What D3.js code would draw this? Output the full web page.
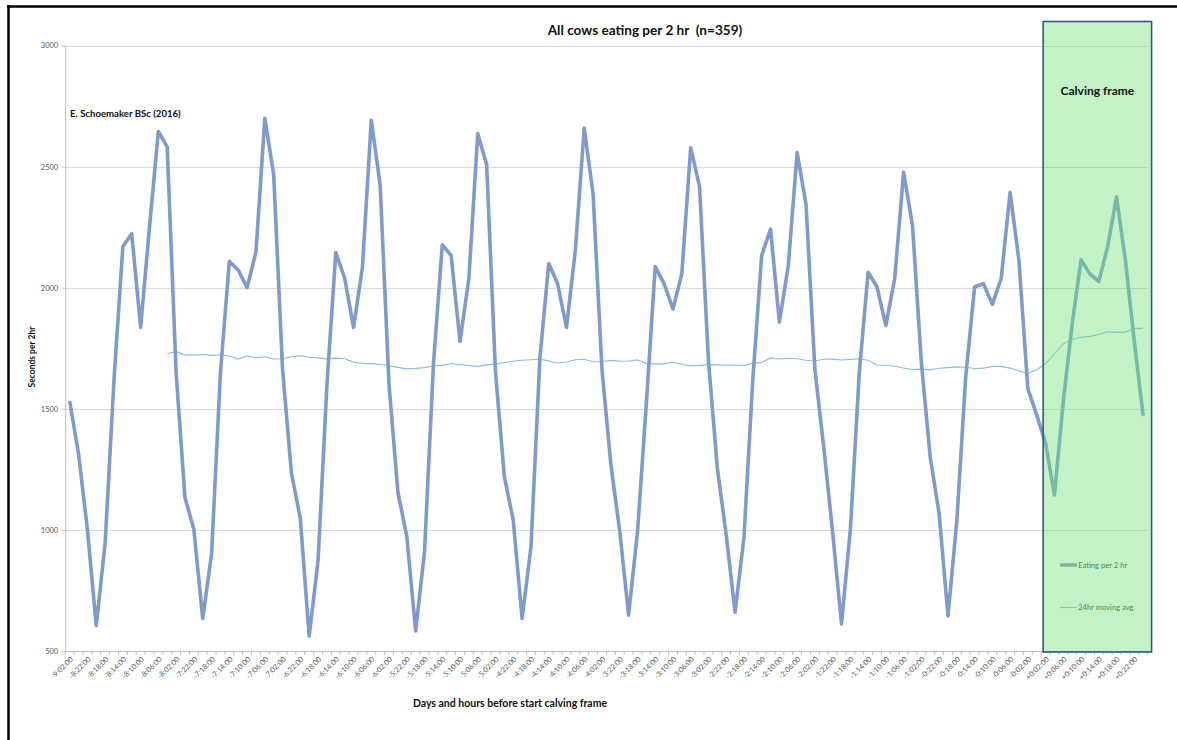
<!DOCTYPE html>
<html><head><meta charset="utf-8">
<script src="https://cdn.jsdelivr.net/npm/d3@7"></script>
<style>
body{margin:0;background:#fff}
svg{display:block}
text{font-family:Lato,"Open Sans","Liberation Sans",sans-serif;white-space:pre}
</style>
</head><body>
<svg id="c" width="1177" height="740"></svg>
<script>
const categories = [
"-9:02:00","-9:00:00",
"-8:22:00","-8:20:00","-8:18:00","-8:16:00","-8:14:00","-8:12:00","-8:10:00","-8:08:00","-8:06:00","-8:04:00","-8:02:00","-8:00:00",
"-7:22:00","-7:20:00","-7:18:00","-7:16:00","-7:14:00","-7:12:00","-7:10:00","-7:08:00","-7:06:00","-7:04:00","-7:02:00","-7:00:00",
"-6:22:00","-6:20:00","-6:18:00","-6:16:00","-6:14:00","-6:12:00","-6:10:00","-6:08:00","-6:06:00","-6:04:00","-6:02:00","-6:00:00",
"-5:22:00","-5:20:00","-5:18:00","-5:16:00","-5:14:00","-5:12:00","-5:10:00","-5:08:00","-5:06:00","-5:04:00","-5:02:00","-5:00:00",
"-4:22:00","-4:20:00","-4:18:00","-4:16:00","-4:14:00","-4:12:00","-4:10:00","-4:08:00","-4:06:00","-4:04:00","-4:02:00","-4:00:00",
"-3:22:00","-3:20:00","-3:18:00","-3:16:00","-3:14:00","-3:12:00","-3:10:00","-3:08:00","-3:06:00","-3:04:00","-3:02:00","-3:00:00",
"-2:22:00","-2:20:00","-2:18:00","-2:16:00","-2:14:00","-2:12:00","-2:10:00","-2:08:00","-2:06:00","-2:04:00","-2:02:00","-2:00:00",
"-1:22:00","-1:20:00","-1:18:00","-1:16:00","-1:14:00","-1:12:00","-1:10:00","-1:08:00","-1:06:00","-1:04:00","-1:02:00","-1:00:00",
"-0:22:00","-0:20:00","-0:18:00","-0:16:00","-0:14:00","-0:12:00","-0:10:00","-0:08:00","-0:06:00","-0:04:00","-0:02:00","0:00:00",
"+0:02:00","+0:04:00","+0:06:00","+0:08:00","+0:10:00","+0:12:00","+0:14:00","+0:16:00","+0:18:00","+0:20:00","+0:22:00","+1:00:00"
];
const eating = [
1532,1315,1003,605,945,1620,2170,2223,1836,2250,2645,2580,
1650,1133,1003,634,902,1650,2109,2073,2000,2148,2699,2467,
1662,1235,1047,561,873,1600,2145,2039,1836,2083,2691,2423,
1600,1155,974,583,910,1680,2177,2133,1778,2039,2636,2510,
1650,1220,1039,634,931,1706,2100,2017,1836,2155,2659,2387,
1662,1271,996,648,989,1520,2087,2017,1912,2057,2578,2416,
1700,1257,980,660,967,1620,2133,2242,1858,2090,2558,2343,
1662,1340,990,612,1003,1648,2064,2003,1844,2039,2477,2257,
1691,1300,1068,645,1039,1633,2003,2017,1931,2039,2394,2112,
1583,1475,1358,1144,1530,1850,2115,2057,2025,2170,2375,2112,
1778,1470
];
const yTickValues = [500,1000,1500,2000,2500,3000];
const titleText = "All cows eating per 2 hr  (n=359)";
const xTitle = "Days and hours before start calving frame";
const yTitle = "Seconds per 2hr";
const authorNote = "E. Schoemaker BSc (2016)";
const frameLabel = "Calving frame";
const seriesNames = ["Eating per 2 hr","24hr moving avg"];
const maPeriod = 12;          // 24 hr moving average trendline (12 x 2 hr)
const calvingStart = "+0:02:00";

const svg = d3.select("#c");
const L = 65.2, R = 1147.6, T = 45.5, B = 651;
const x = d3.scaleBand().domain(categories).range([L, R]).padding(0);
const cx = d => x(d) + x.bandwidth() / 2;
const y = d3.scaleLinear().domain([500, 3000]).range([B, T]);

// outer frame (top + left visible)
svg.append("line").attr("x1", 7).attr("x2", 1177).attr("y1", 6.5).attr("y2", 6.5)
  .attr("stroke", "#000").attr("stroke-width", 2.5);
svg.append("line").attr("x1", 8.5).attr("x2", 8.5).attr("y1", 5).attr("y2", 740)
  .attr("stroke", "#000").attr("stroke-width", 2.5);

// gridlines
svg.append("g").selectAll("line").data(yTickValues).join("line")
  .attr("x1", L).attr("x2", R)
  .attr("y1", d => Math.round(y(d)) + 0.5).attr("y2", d => Math.round(y(d)) + 0.5)
  .attr("stroke", "#d9d9d9").attr("stroke-width", 1);

// y axis
const yAxis = svg.append("g").attr("transform", `translate(${L},0)`)
  .call(d3.axisLeft(y).tickValues(yTickValues).tickSize(3).tickPadding(4).tickFormat(d3.format("d")));
yAxis.select(".domain").attr("stroke", "#bfbfbf");
yAxis.selectAll(".tick line").attr("stroke", "#bfbfbf");
yAxis.selectAll("text").attr("fill", "#595959").style("font-size", "7.5px");

// x axis line + tick marks at category boundaries
svg.append("line").attr("x1", L).attr("x2", R).attr("y1", B + 0.5).attr("y2", B + 0.5)
  .attr("stroke", "#bfbfbf");
svg.append("g").selectAll("line").data(categories.concat(["__end"])).join("line")
  .attr("x1", d => d === "__end" ? R : x(d)).attr("x2", d => d === "__end" ? R : x(d))
  .attr("y1", B).attr("y2", B + 4).attr("stroke", "#bfbfbf");
svg.append("g").selectAll("text").data(categories.filter((d, i) => i % 2 === 0)).join("text")
  .attr("transform", d => `translate(${cx(d) + 2},${B + 7}) rotate(-45)`)
  .attr("text-anchor", "end").attr("dy", "0.35em")
  .attr("fill", "#595959").style("font-size", "7.3px").text(d => d);

// series
const line = d3.line().defined(d => d != null)
  .x((d, i) => cx(categories[i])).y(d => y(d));
const movingAvg = eating.map((v, i) => i < maPeriod - 1 ? null : d3.mean(eating.slice(i - maPeriod + 1, i + 1)));

svg.append("path").datum(movingAvg).attr("d", line)
  .attr("fill", "none").attr("stroke", "#86bce6").attr("stroke-width", 1.1);
svg.append("path").datum(eating).attr("d", line)
  .attr("fill", "none").attr("stroke", "#7f9bcb").attr("stroke-width", 3.6)
  .attr("stroke-linejoin", "round");

// calving frame geometry
const fx0 = x(calvingStart) + 2, fx1 = R + 4, fy0 = y(3000) - 24, fy1 = B + 1;

// legend (under the overlay)
const lg = svg.append("g");
const lgItems = [
  {name: seriesNames[0], w: 3.6, c: "#7f9bcb", yy: 565},
  {name: seriesNames[1], w: 1.1, c: "#86bce6", yy: 607.5}
];
lgItems.forEach(it => {
  lg.append("line").attr("x1", fx0 + 17).attr("x2", fx0 + 34).attr("y1", it.yy).attr("y2", it.yy)
    .attr("stroke", it.c).attr("stroke-width", it.w);
  lg.append("text").attr("x", fx0 + 35).attr("y", it.yy).attr("dy", "0.35em")
    .attr("fill", "#404040").style("font-size", "7.6px").text(it.name);
});

// overlay rectangle
svg.append("rect").attr("x", fx0).attr("y", fy0).attr("width", fx1 - fx0).attr("height", fy1 - fy0)
  .attr("fill", "rgb(110,225,120)").attr("fill-opacity", 0.42)
  .attr("stroke", "#2f5590").attr("stroke-width", 1.6);
svg.append("text").attr("x", (fx0 + fx1) / 2).attr("y", 91).attr("dy", "0.35em")
  .attr("text-anchor", "middle").attr("font-weight", "bold").attr("fill", "#111")
  .style("font-size", "12px").text(frameLabel);

// texts
svg.append("text").attr("x", 645).attr("y", 30).attr("dy", "0.35em").attr("text-anchor", "middle")
  .attr("font-weight", "bold").attr("fill", "#111").style("font-size", "13.6px").text(titleText);
svg.append("text").attr("x", 70).attr("y", 114).attr("dy", "0.35em")
  .attr("font-weight", "bold").attr("fill", "#111").style("font-size", "9.6px").text(authorNote);
svg.append("text").attr("transform", "translate(32,357) rotate(-90)").attr("dy", "0.35em")
  .attr("text-anchor", "middle").attr("font-weight", "bold").attr("fill", "#111")
  .style("font-size", "8.5px").text(yTitle);
svg.append("text").attr("x", 510).attr("y", 703).attr("dy", "0.35em").attr("text-anchor", "middle")
  .attr("font-weight", "bold").attr("fill", "#111").style("font-size", "10.5px").text(xTitle);
</script>
</body></html>
